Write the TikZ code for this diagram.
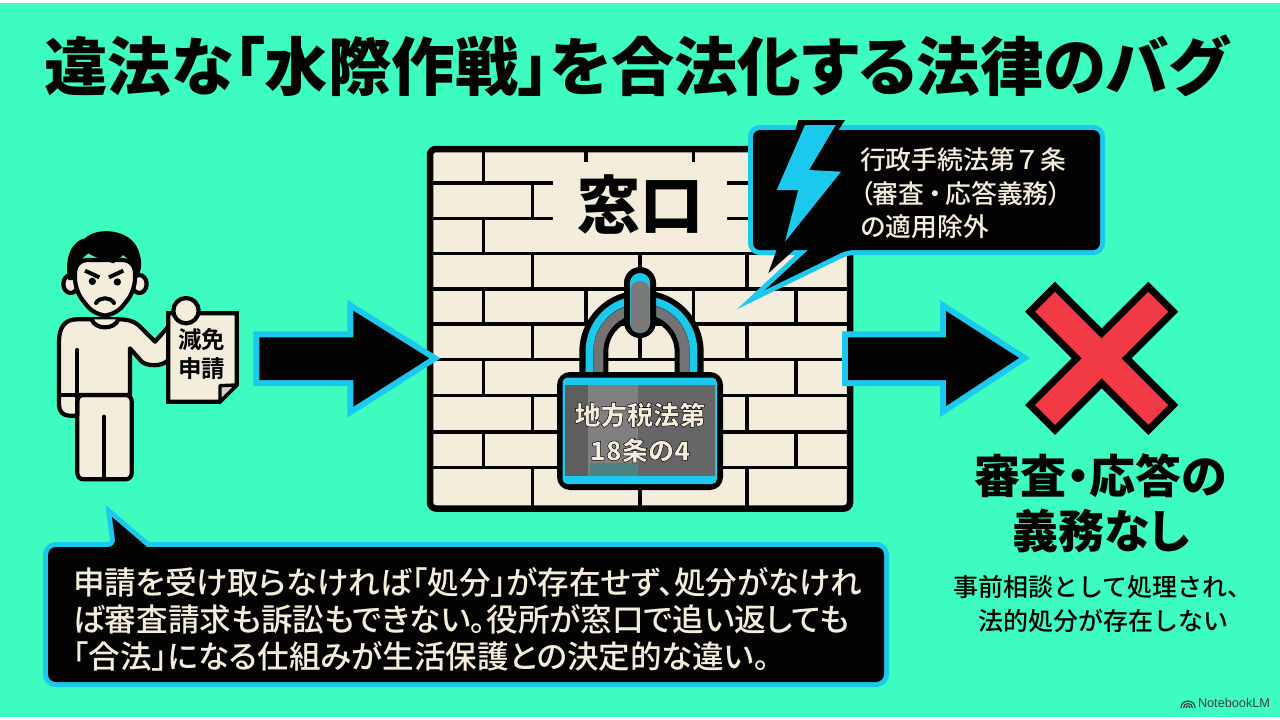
\documentclass[tikz,border=0pt]{standalone}
\usepackage{fontspec}
\newfontfamily\jpblack{Noto Sans CJK JP Black}[Renderer=OpenType,RawFeature=+palt]
\newfontfamily\jpbold{Noto Sans CJK JP Bold}[Renderer=OpenType]
\newfontfamily\jpmed{Noto Sans CJK JP Medium}[Renderer=OpenType]
\newfontfamily\jpmedp{Noto Sans CJK JP Medium}[Renderer=OpenType,RawFeature=+palt]
\newfontfamily\jpstroked{Noto Sans CJK JP Black}[Renderer=OpenType,FakeBold=1.8]
\newfontfamily\latinsans{Liberation Sans}
\definecolor{mint}{HTML}{3CFDBF}
\definecolor{sky}{HTML}{1BC8EE}
\definecolor{brick}{HTML}{F5EDDC}
\definecolor{alarm}{HTML}{F23A45}
\definecolor{ink}{HTML}{030303}
\newcommand{\fs}[2]{\fontsize{#1}{#2}\selectfont}
% cream glyph bodies with a black stroked edge
\newcommand{\blackedge}{\special{pdf:code 0 0 0 RG}}
\tikzset{
  x=1pt,y=-1pt,
  mortar/.style={line width=3.6pt,draw=ink},
  outline/.style={draw=ink,line width=4.2pt,line join=round,fill=brick},
  flow/.style={draw=sky,line width=12pt,miter limit=12,fill=ink},
  flowcore/.style={fill=ink},
  bubbleedge/.style={draw=sky,line width=10pt,miter limit=12,fill=ink},
  bubblecore/.style={fill=ink},
  plain/.style={inner sep=0pt,outer sep=0pt},
}
\begin{document}
\begin{tikzpicture}
\useasboundingbox (0,0) rectangle (1280,720);
\fill[white] (0,0) rectangle (1280,720);
\fill[mint] (0,2.6) rectangle (1280,716.5);

% heading
\node[plain,text=ink,font={\jpblack\fs{63.4}{70}}] (heading) at (636.5,65.5) {違法な「水際作戦」を合法化する法律のバグ};

% brick wall
\fill[brick,rounded corners=6pt] (430,149) rectangle (850,508.5);
\foreach \yy in {182.7,218.3,253.3,289,324,359.3,395.3,431.7,467.3}
  \draw[mortar] (430,\yy) -- (850,\yy);
\foreach \top/\bot in {149/182.7,218.3/253.3,289/324,359.3/395.3,431.7/467.3}
  \draw[mortar] (483.3,\top) -- (483.3,\bot);
\foreach \top/\bot in {289/324,359.3/395.3,431.7/467.3}
  \foreach \xx in {585.7,693.3,796}
    \draw[mortar] (\xx,\top) -- (\xx,\bot);
\foreach \top/\bot in {253.3/289,324/359.3,395.3/431.7,467.3/508.5}
  \foreach \xx in {532.3,640,746.7}
    \draw[mortar] (\xx,\top) -- (\xx,\bot);
\draw[mortar] (532.3,182.7) -- (532.3,218.3);
\fill[brick] (553,162) rectangle (727,251);
\draw[mortar] (585.7,149) -- (585.7,162);
\draw[mortar] (693.3,149) -- (693.3,162);
\draw[line width=6.5pt,draw=ink,rounded corners=6pt] (430,149) rectangle (850,508.5);
\node[plain,text=ink,font={\jpblack\fs{63}{70}}] (counter) at (640,204.5) {窓口};

% padlock shackle
\draw[line width=29pt,draw=ink,rounded corners=47pt] (593.8,395) -- (593.8,305) -- (689.2,305) -- (689.2,395);
\draw[line width=7.7pt,draw=sky,rounded corners=51pt] (589.5,395) -- (589.5,300) -- (693.5,300) -- (693.5,395);
\draw[line width=10pt,draw=black!55,rounded corners=43pt] (598.3,395) -- (598.3,309) -- (684.7,309) -- (684.7,395);

% padlock hasp
\fill[ink,rounded corners=16pt] (624,267) rectangle (656,338);
\fill[sky,rounded corners=10pt] (630,273) rectangle (650,333);
\fill[black!52,rounded corners=9pt] (630.5,281) rectangle (649.5,333);

% padlock body
\fill[ink,rounded corners=13pt] (557,372) rectangle (723,490);
\fill[sky,rounded corners=5pt] (562.5,377.5) rectangle (717,484);
\fill[black!63] (564.5,385) rectangle (588,476);
\fill[black!50] (588,385) rectangle (638,476);
\fill[black!60] (638,385) rectangle (715,476);
\fill[teal!60!black!70!white] (590,463) rectangle (638,476);
\node[plain,text=brick,align=center,font={\jpstroked\fs{26.2}{35.5}}] (locklaw) at (640,432.5)
  {\blackedge 地方税法第\\\blackedge 18条の4};

% speech bubble with the legal exception
\draw[bubbleedge,rounded corners=7pt] (753,130) -- (1100,130) -- (1100,250) -- (847,250)
  [sharp corners] -- (765,290) -- (808,250) [rounded corners=7pt] -- (753,250) -- cycle;
\fill[bubblecore,rounded corners=7pt] (753,130) -- (1100,130) -- (1100,250) -- (847,250)
  [sharp corners] -- (765,290) -- (808,250) [rounded corners=7pt] -- (753,250) -- cycle;
\fill[ink] (798.3,120) -- (845,120) -- (825,150) -- (790,150) -- cycle;
\fill[ink] (783,232) -- (768.3,273.3) -- (794,250) -- (800,232) -- cycle;
\fill[sky] (805,125) -- (835.7,125) -- (809,170) -- (841,171.7) -- (785,241.7) -- (798.3,190) -- (776.7,190) -- cycle;
\node[plain,text=brick,anchor=west,align=left,font={\jpmed\fs{25.8}{33.5}}] (exception) at (860,193.5)
  {行政手続法第７条\\
   {\jpmedp （審査\hspace{4pt}・\hspace{4pt}応答義務）}\\
   の適用除外};

% flow arrows
\draw[flow] (259.3,337.3) -- (353.3,337.3) -- (353.3,310.7) -- (429.3,358.3) -- (353.3,406.7) -- (353.3,380) -- (259.3,380) -- cycle;
\fill[flowcore] (259.3,337.3) -- (353.3,337.3) -- (353.3,310.7) -- (429.3,358.3) -- (353.3,406.7) -- (353.3,380) -- (259.3,380) -- cycle;
\draw[flow] (848,337.3) -- (946,337.3) -- (946,311) -- (1019,358) -- (946,406) -- (946,380) -- (848,380) -- cycle;
\fill[flowcore] (848,337.3) -- (946,337.3) -- (946,311) -- (1019,358) -- (946,406) -- (946,380) -- (848,380) -- cycle;

% applicant holding the form
\begin{scope}[shift={(40,220)},x=.33333pt,y=-.33333pt]
  % legs
  \draw[outline,rounded corners=6pt] (112,525) -- (112,778) -- (275,778) -- (275,525) -- cycle;
  \draw[outline,line cap=round] (192,590) -- (192,778);
  % torso and arms
  \draw[outline] (160,298) -- (110,298) .. controls (75,298) and (57,322) .. (57,365) -- (57,555) .. controls (57,575) and (70,587) .. (88,587) -- (112,587) -- (112,525) -- (270,525) -- (270,385)
    -- (305,425) .. controls (320,438) and (365,442) .. (385,420) -- (385,320) -- (345,365) -- (295,315) .. controls (280,302) and (260,298) .. (235,298) -- cycle;
  \draw[line width=4.2pt,draw=ink,line cap=round] (112,390) -- (112,525);
  \draw[line width=4.2pt,draw=ink] (57,525) -- (270,525);
  \draw[outline] (155,298) .. controls (165,330) and (225,330) .. (235,298);
  % head
  \draw[outline] (92,192) ellipse[x radius=22,y radius=27];
  \draw[outline] (298,192) ellipse[x radius=22,y radius=27];
  \draw[outline,rounded corners=12pt] (105,120) -- (105,212) -- (165,287) -- (225,287) -- (285,212) -- (285,120) -- cycle;
  \fill[ink] (108,180) -- (85,180) .. controls (70,110) and (100,60) .. (135,55) .. controls (170,20) and (270,25) .. (295,90)
    .. controls (310,130) and (305,160) .. (285,178) .. controls (285,150) and (280,130) .. (250,105) -- (220,130)
    .. controls (190,120) and (160,110) .. (145,100) .. controls (115,120) and (108,150) .. cycle;
  \fill[ink] (157,184) circle[radius=11];
  \fill[ink] (232,186) circle[radius=11];
  \draw[line width=4pt,draw=ink] (135,152) -- (178,172);
  \draw[line width=4pt,draw=ink] (250,152) -- (207,172);
  \draw[line width=4pt,draw=ink,line cap=round] (168,249) .. controls (180,230) and (210,230) .. (222,249);
  % form
  \draw[outline,line join=miter] (385,280) -- (590,280) -- (590,495) -- (540,545) -- (385,545) -- cycle;
  \draw[draw=ink,line width=3.4pt,fill=black!12!brick,line join=round] (590,495) -- (540,497) -- (540,545) -- cycle;
  \draw[outline] (438,272) circle[radius=38];
  \node[plain,text=ink,align=center,font={\jpbold\fs{23.5}{28.5}}] (formtitle) at (485,402) {減免\\申請};
\end{scope}

% rejection cross
\begin{scope}[shift={(1000,270)},x=.33333pt,y=-.33333pt]
  \draw[draw=ink,line width=7pt,fill=alarm,miter limit=4] (165,50) -- (305,190) -- (445,50) -- (520,125) -- (380,265) -- (520,405)
    -- (445,480) -- (305,340) -- (165,480) -- (90,405) -- (230,265) -- (90,125) -- cycle;
\end{scope}

\node[plain,text=ink,align=center,font={\jpblack\fs{46}{55}}] (duty) at (1101,503) {審査・応答の\\義務なし};
\node[plain,text=ink,align=center,font={\jpmed\fs{25}{34.5}}] (dutynote) at (1103,604) {事前相談として処理され、\\法的処分が存在しない};

% explanation box
\draw[bubbleedge,rounded corners=8pt] (48,547) -- (116,547) [sharp corners] -- (112,517) -- (147,547) [rounded corners=8pt]
  -- (884,547) -- (884,682) -- (48,682) -- cycle;
\fill[bubblecore,rounded corners=8pt] (48,547) -- (116,547) [sharp corners] -- (112,517) -- (147,547) [rounded corners=8pt]
  -- (884,547) -- (884,682) -- (48,682) -- cycle;
\node[plain,text=brick,anchor=west,align=left,font={\jpmedp\fs{31.6}{37}}] (explain) at (73,619)
  {申請を受け取らなければ「処分」が存在せず、処分がなけれ\\
   ば審査請求も訴訟もできない。役所が窓口で追い返しても\\
   「合法」になる仕組みが生活保護との決定的な違い。};

% product mark
\foreach \rr in {2,4.5,7}
  \draw[line width=1.2pt,draw=black!75] (1188-\rr,708) .. controls (1188-\rr,708-1.33*\rr) and (1188+\rr,708-1.33*\rr) .. (1188+\rr,708);
\node[plain,text=black!75,anchor=west,font={\latinsans\fs{12.7}{14}}] (mark) at (1198,703) {NotebookLM};
\end{tikzpicture}
\end{document}
